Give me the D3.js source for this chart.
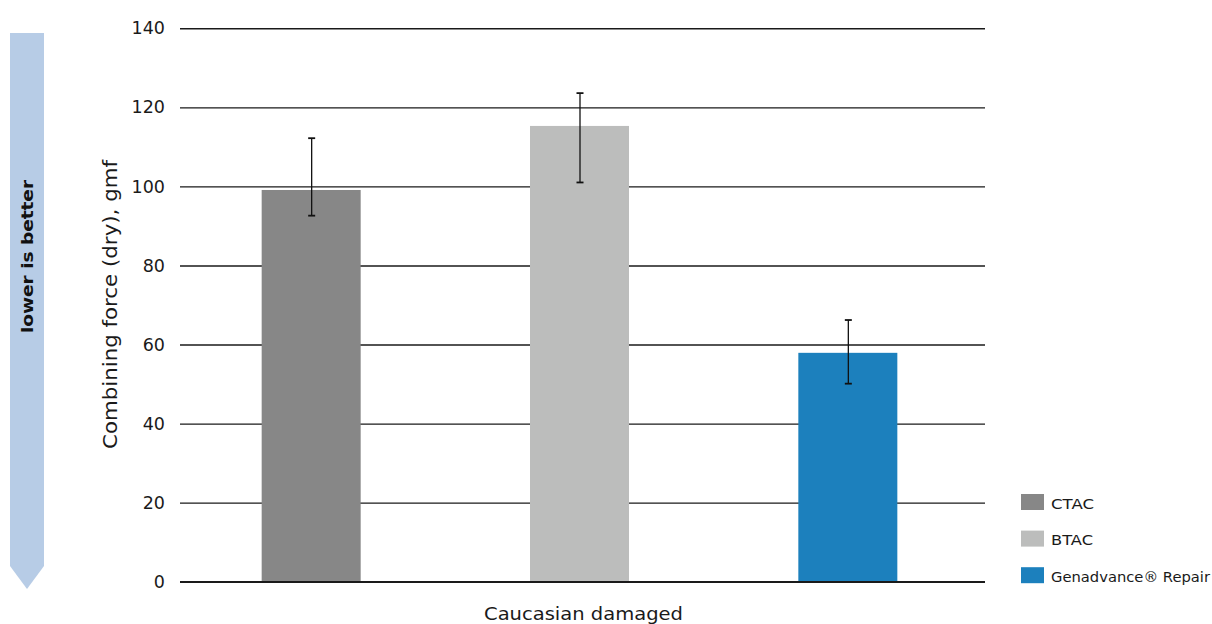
<!DOCTYPE html>
<html><head><meta charset="utf-8">
<script src="https://cdn.jsdelivr.net/npm/d3@7"></script>
<style>body{margin:0;background:#fff;} text{font-family:"DejaVu Sans",sans-serif;}</style>
</head><body>
<svg id="c" width="1212" height="624"></svg>
<script>
const categories = ["CTAC", "BTAC", "Genadvance® Repair"];
const values = [99.1, 115.3, 57.9];
const errHigh = [112.2, 123.6, 66.2];
const errLow = [92.6, 101.0, 50.1];
const colors = ["#878787", "#bcbdbc", "#1c80bd"];
const yTicks = [0, 20, 40, 60, 80, 100, 120, 140];
const xLabel = "Caucasian damaged";
const yLabel = "Combining force (dry), gmf";
const arrowLabel = "lower is better";

const svg = d3.select("#c");
const x0 = 180, x1 = 985, yTop = 28.3, yBot = 581.7;
const y = d3.scaleLinear().domain([0, 140]).range([yBot, yTop]);
const x = d3.scaleBand().domain(categories).range([x0 - 3, x1 - 3]);
const bw = 99;

// gridlines + tick labels via axis
const axis = d3.axisLeft(y).tickValues(yTicks).tickSize(-(x1 - x0)).tickPadding(15);
const g = svg.append("g").attr("transform", `translate(${x0},0)`).call(axis);
g.select(".domain").remove();
g.selectAll(".tick line").attr("stroke", "#1a1a1a").attr("stroke-width", 1.4);
g.selectAll(".tick text").attr("font-size", 17.5).attr("fill", "#1a1a1a")
  .attr("font-family", "'DejaVu Sans', sans-serif");

// bars
svg.selectAll("rect.bar").data(categories).join("rect")
  .attr("class", "bar")
  .attr("x", d => x(d) + x.bandwidth() / 2 - bw / 2)
  .attr("width", bw)
  .attr("y", (d, i) => y(values[i]))
  .attr("height", (d, i) => y(0) - y(values[i]))
  .attr("fill", (d, i) => colors[i]);

// zero line on top
svg.append("line").attr("x1", x0).attr("x2", x1).attr("y1", y(0)).attr("y2", y(0))
  .attr("stroke", "#1a1a1a").attr("stroke-width", 1.4);

// error bars
const eg = svg.append("g").attr("stroke", "#111");
categories.forEach((c, i) => {
  const cx = x(c) + x.bandwidth() / 2 + 0.5;
  eg.append("line").attr("x1", cx).attr("x2", cx).attr("y1", y(errHigh[i])).attr("y2", y(errLow[i])).attr("stroke-width", 1.3);
  [errHigh[i], errLow[i]].forEach(v => {
    eg.append("line").attr("x1", cx - 3.5).attr("x2", cx + 3.5).attr("y1", y(v)).attr("y2", y(v)).attr("stroke-width", 1.8);
  });
});

// axis labels
svg.append("text").attr("x", 583.5).attr("y", 620).attr("text-anchor", "middle")
  .attr("font-size", 18.5).attr("fill", "#1a1a1a")
  .attr("textLength", 199).attr("lengthAdjust", "spacingAndGlyphs").text(xLabel);
svg.append("text").attr("transform", "translate(117,304.5) rotate(-90)").attr("text-anchor", "middle")
  .attr("font-size", 19).attr("fill", "#1a1a1a")
  .attr("textLength", 289).attr("lengthAdjust", "spacingAndGlyphs").text(yLabel);

// arrow
svg.append("path").attr("d", "M10,33 L44,33 L44,566 L27,589 L10,566 Z").attr("fill", "#b7cce6");
svg.append("text").attr("transform", "translate(33,256.5) rotate(-90)").attr("text-anchor", "middle")
  .attr("font-size", 16.5).attr("font-weight", "bold").attr("fill", "#111")
  .attr("textLength", 153).attr("lengthAdjust", "spacingAndGlyphs").text(arrowLabel);

// legend
const legendWidths = [43, 42, 159];
const lg = svg.append("g");
categories.forEach((c, i) => {
  const ly = 494 + i * 36.6;
  lg.append("rect").attr("x", 1021).attr("y", ly).attr("width", 23).attr("height", 16).attr("fill", colors[i]);
  lg.append("text").attr("x", 1051).attr("y", ly + 14.5).attr("font-size", 14).attr("fill", "#1a1a1a")
    .attr("textLength", legendWidths[i]).attr("lengthAdjust", "spacingAndGlyphs").text(c);
});
</script>
</body></html>
